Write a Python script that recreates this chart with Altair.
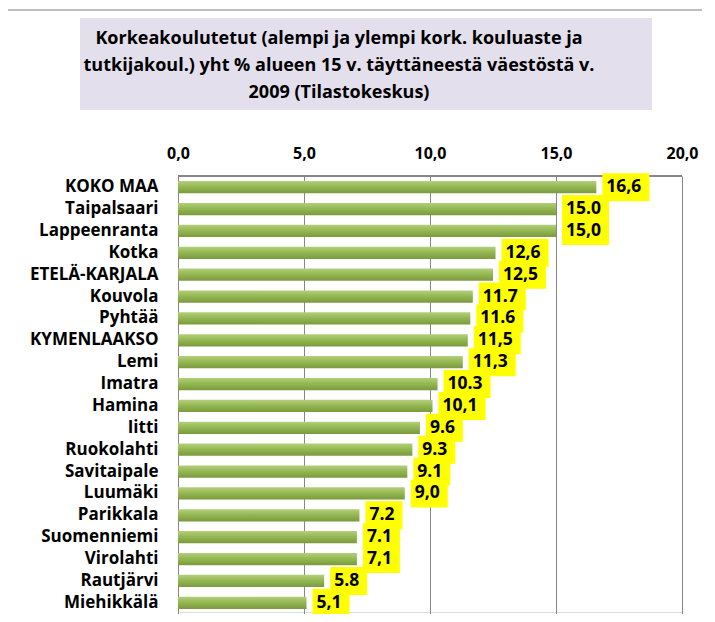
import altair as alt
import pandas as pd

names = ["KOKO MAA ", "Taipalsaari", "Lappeenranta", "Kotka", "ETELÄ-KARJALA", "Kouvola",
         "Pyhtää", "KYMENLAAKSO", "Lemi", "Imatra", "Hamina", "Iitti", "Ruokolahti",
         "Savitaipale", "Luumäki", "Parikkala", "Suomenniemi", "Virolahti", "Rautjärvi",
         "Miehikkälä"]
values = [16.6, 15.0, 15.0, 12.6, 12.5, 11.7, 11.6, 11.5, 11.3, 10.3, 10.1, 9.6, 9.3,
          9.1, 9.0, 7.2, 7.1, 7.1, 5.8, 5.1]
labels = ["16,6", "15.0", "15,0", "12,6", "12,5", "11.7", "11.6", "11,5", "11,3", "10.3",
          "10,1", "9.6", "9.3", "9.1", "9,0", "7.2", "7.1", "7,1", "5.8", "5,1"]
ticks = [0, 5, 10, 15, 20]
title_lines = ["Korkeakoulutetut (alempi ja ylempi kork. kouluaste ja",
               "tutkijakoul.) yht % alueen 15 v. täyttäneestä väestöstä v.",
               "2009  (Tilastokeskus)"]

df = pd.DataFrame({"alue": names, "arvo": values, "teksti": labels})
df["n"] = df["teksti"].str.len()

FONT = "Open Sans"
W, H = 504, 436

x_scale = alt.Scale(domain=[0, 20], nice=False, zero=True)
y_scale = alt.Scale(paddingInner=0.44, paddingOuter=0.23, range=[0, 438])

x_axis = alt.Axis(orient="top", values=ticks, title=None, ticks=False, domain=False,
                  grid=True, gridColor="#868686", gridWidth=1, labelFlush=False,
                  labelExpr="replace(format(datum.value, '.1f'), '.', ',')",
                  labelFont=FONT, labelFontSize=16, labelFontWeight="bold",
                  labelColor="#000000", labelPadding=15)
y_axis = alt.Axis(title=None, ticks=False, domain=False, grid=False,
                  labelFont=FONT, labelFontSize=17, labelFontWeight="bold",
                  labelColor="#000000", labelPadding=20)

base = alt.Chart(df)

frame_top = base.mark_rule(color="#BFBFBF", strokeWidth=2).encode(
    x=alt.value(-171), x2=alt.value(560), y=alt.value(-166))
frame_left = base.mark_rule(color="#BFBFBF", strokeWidth=2).encode(
    x=alt.value(-171), y=alt.value(-166), y2=alt.value(480))
title_box = base.mark_rect(color="#E4DFEC").encode(
    x=alt.value(-98), x2=alt.value(474), y=alt.value(-158), y2=alt.value(-66))
plot_top = base.mark_rule(color="#868686", strokeWidth=1).encode(
    x=alt.value(0), x2=alt.value(W), y=alt.value(0))

grad = alt.Gradient(gradient="linear", x1=0, x2=0, y1=0, y2=1,
                    stops=[alt.GradientStop(color="#b3d07a", offset=0),
                           alt.GradientStop(color="#96b854", offset=0.45),
                           alt.GradientStop(color="#7a9a3c", offset=1)])

bars = base.mark_bar(color=grad).encode(
    x=alt.X("arvo:Q", scale=x_scale, axis=x_axis),
    y=alt.Y("alue:N", sort=names, scale=y_scale, axis=y_axis),
)

ysimple = alt.Y("alue:N", sort=names)
box3 = base.transform_filter("datum.n == 3").mark_bar(
    color="#FFFF00", size=28, xOffset=6, x2Offset=43).encode(
    x="arvo:Q", x2="arvo:Q", y=ysimple)
box4 = base.transform_filter("datum.n == 4").mark_bar(
    color="#FFFF00", size=28, xOffset=6, x2Offset=53).encode(
    x="arvo:Q", x2="arvo:Q", y=ysimple)

text = base.mark_text(align="left", baseline="middle", dx=10, font=FONT, fontSize=17.5,
                      fontWeight="bold", color="#000000").encode(
    x="arvo:Q", y=ysimple, text="teksti:N")

chart = alt.layer(frame_top, frame_left, title_box, plot_top, bars, box3, box4, text).properties(
    width=W, height=H,
    title=alt.TitleParams(text=title_lines, font=FONT, fontSize=18, fontWeight="bold",
                          color="#000000", anchor="start", frame="group", align="center",
                          dx=161, lineHeight=27, offset=-93),
    autosize=alt.AutoSizeParams(type="none"),
    padding={"left": 170, "top": 168, "right": 20, "bottom": 2},
).configure_view(stroke=None).configure(background="white")

chart.save("out.html", embed_options={"renderer": "svg", "actions": False})
